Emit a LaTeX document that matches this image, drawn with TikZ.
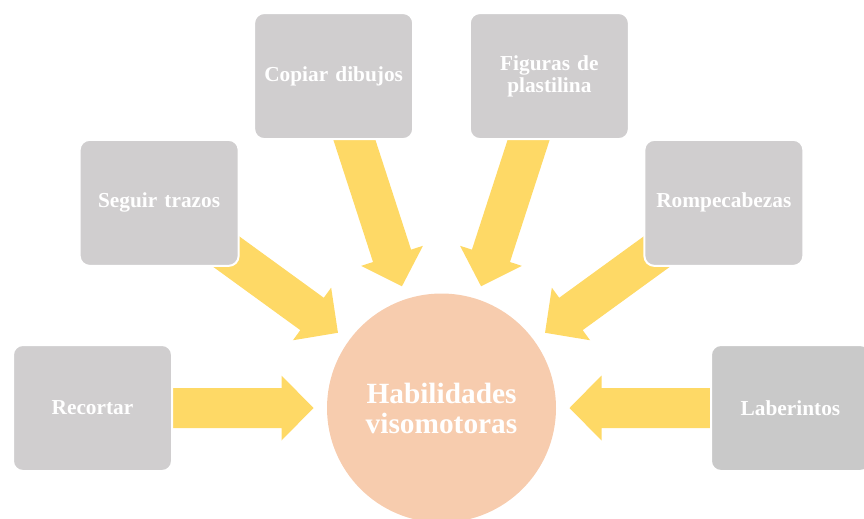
\documentclass[tikz,border=0pt]{standalone}
\usepackage{fontspec}
\setmainfont{Liberation Serif}
\usetikzlibrary{calc}
\pgfdeclarelayer{background}
\pgfsetlayers{background,main}
\definecolor{boxgray}{HTML}{D0CECF}
\definecolor{boxgraydark}{HTML}{C9C9C9}
\definecolor{arrowyellow}{HTML}{FED966}
\definecolor{hubpeach}{HTML}{F7CCAE}
\tikzset{
  itembox/.style={rectangle, rounded corners=7.5pt, fill=boxgray, draw=white,
    line width=1.5pt, minimum width=119.25pt, minimum height=94.5pt,
    text width=112pt, align=center, inner sep=0pt, text=white,
    font=\bfseries\fontsize{16}{16.5}\selectfont},
  hubnode/.style={circle, fill=hubpeach, minimum size=171.75pt, inner sep=0pt,
    align=center, text=white, font=\bfseries\fontsize{22}{22.5}\selectfont},
  blockarrow/.style={fill=arrowyellow}
}
% block arrow from the centre of node #1 towards node #2
\newcommand\blockarrowfrom[2]{%
  \coordinate (ta) at (#1.center);
  \coordinate (tp) at ($(#2.center)!96pt!(#1.center)$);
  \coordinate (hb) at ($(tp)!24pt!(ta)$);
  \fill[blockarrow] ($(ta)!15pt!90:(tp)$) -- ($(hb)!15pt!90:(tp)$)
    -- ($(hb)!24.375pt!90:(tp)$) -- (tp) -- ($(hb)!24.375pt!-90:(tp)$)
    -- ($(hb)!15pt!-90:(tp)$) -- ($(ta)!15pt!-90:(tp)$) -- cycle;
}
\begin{document}
\begin{tikzpicture}[x=0.75pt,y=-0.75pt]
\useasboundingbox (0,0) rectangle (864,518);
\clip (0,0) rectangle (864,518);
\node[hubnode] (hub) at (441.5,408) {Habilidades\\visomotoras};
\node[itembox] (rec) at ($(hub.center)+(180:261.75pt)$) {Recortar};
\node[itembox] (seg) at ($(hub.center)+(144:261.75pt)$) {Seguir trazos};
\node[itembox] (cop) at ($(hub.center)+(108:261.75pt)$) {Copiar dibujos};
\node[itembox] (fig) at ($(hub.center)+(72:261.75pt)$) {Figuras de\\plastilina};
\node[itembox] (rom) at ($(hub.center)+(36:261.75pt)$) {Rompecabezas};
\node[itembox, fill=boxgraydark] (lab) at ($(hub.center)+(0:261.75pt)$) {Laberintos};
\begin{pgfonlayer}{background}
\blockarrowfrom{rec}{hub}
\blockarrowfrom{seg}{hub}
\blockarrowfrom{cop}{hub}
\blockarrowfrom{fig}{hub}
\blockarrowfrom{rom}{hub}
\blockarrowfrom{lab}{hub}
\end{pgfonlayer}
\end{tikzpicture}
\end{document}
